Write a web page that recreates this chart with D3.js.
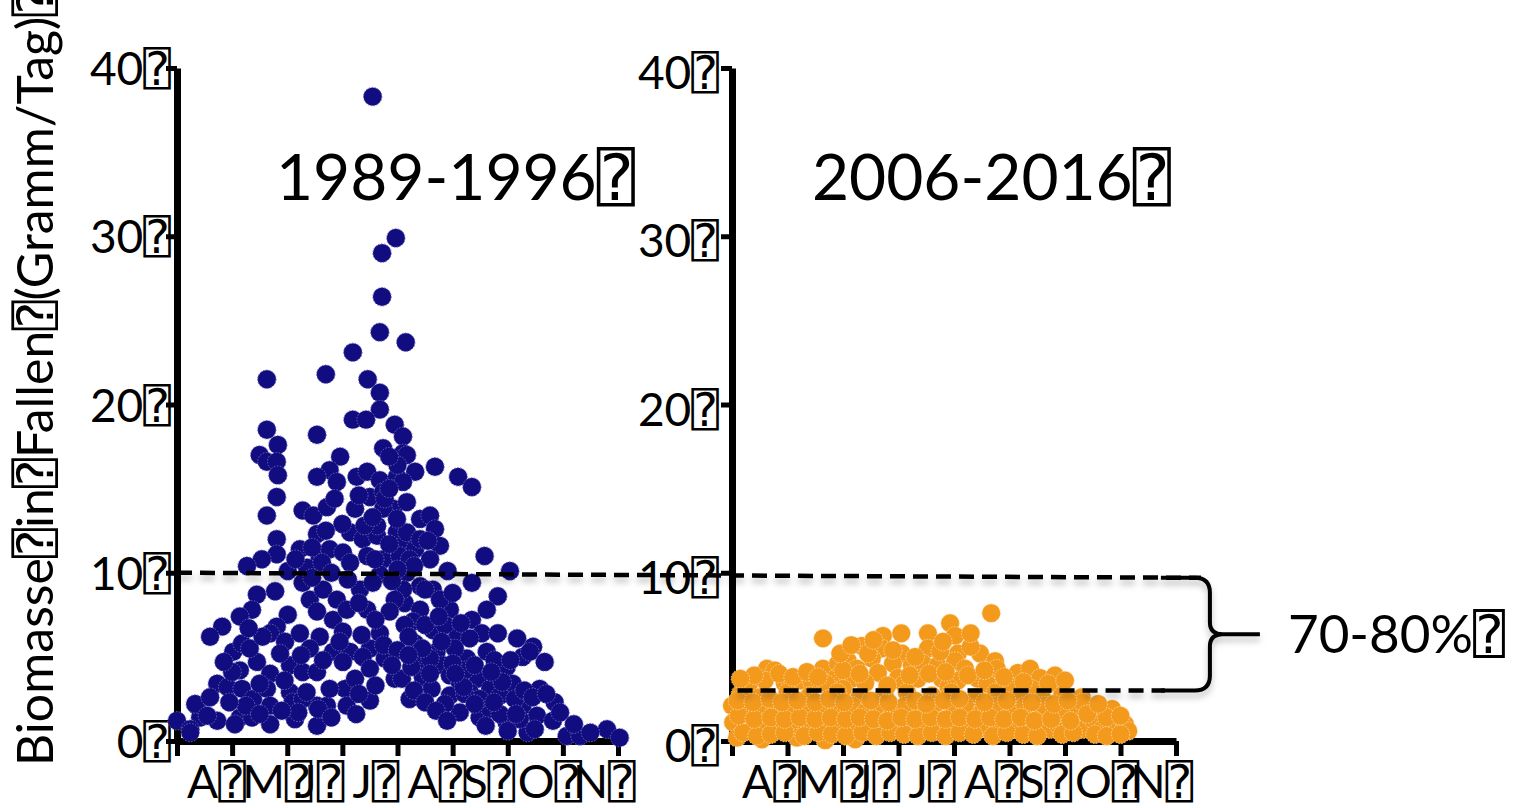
<!DOCTYPE html>
<html><head><meta charset="utf-8">
<script src="https://cdn.jsdelivr.net/npm/d3@7"></script>
<style>
html,body{margin:0;padding:0;background:#fff;}
svg{display:block;}
text{font-family: Lato, "DejaVu Sans Mono", "DejaVu Sans", sans-serif; fill:#000;}
</style></head><body>
<svg id="chart" width="1516" height="808"></svg>
<script>
// glyph that the source deck shows in place of unknown characters
const Q = "\u2370";

const months = ["A", "M", "J", "J", "A", "S", "O", "N"];
const yTicks = [0, 10, 20, 30, 40];
const periodLabels = ["1989-1996" + Q, "2006-2016" + Q];
const yTitle = "Biomasse" + Q + "in" + Q + "Fallen" + Q + "(Gramm/Tag)" + Q;
const declineLabel = "70-80%" + Q;

// reference levels: earlier mean (left end / right end of the dashed line) and recent level
const upperRef = [10, 9.7];
const lowerRef = 3;

// [months since 1 April, biomass g/day]
const early = [
[3.55,38.3],[3.97,29.9],[3.72,29.0],[3.72,26.4],[3.68,24.3],[4.15,23.7],[3.19,23.1],[1.63,21.5],[2.70,21.8],[3.46,21.5],[3.68,20.7],
[3.68,19.7],[3.19,19.1],[3.43,19.1],[3.95,18.8],[4.10,18.1],[1.63,18.5],[2.54,18.2],[1.83,17.6],[1.50,17.0],[1.63,16.6],[1.81,16.6],[1.83,15.8],[3.74,17.4],[4.10,17.1],[2.96,16.9],[2.77,16.1],[2.54,15.7],[2.90,15.4],[3.26,15.7],[3.45,16.0],[3.68,15.5],[3.99,15.7],
[1.81,14.5],[1.63,13.4],[2.28,13.7],[2.47,13.4],[2.72,13.9],[2.86,14.4],[3.23,13.8],[3.50,14.5],[3.74,14.8],[3.92,13.8],[4.17,14.2],
[1.81,12.0],[2.54,12.3],[3.14,12.4],[3.37,12.0],[3.63,12.2],[3.99,12.4],[4.10,11.6],
[2.23,11.4],[1.81,11.1],[1.54,10.8],[1.27,10.4],[2.59,10.9],[2.77,11.4],[3.01,11.2],[3.45,11.0],[3.74,10.8],[4.04,11.0],
[2.01,10.1],[2.36,10.3],[2.63,10.6],[3.14,10.6],
[1.45,8.7],[1.78,8.9],[1.36,7.8],[1.14,7.4],[0.82,6.8],[0.60,6.2],[2.28,9.4],[2.41,8.4],[2.65,9.0],[2.90,8.4],[2.01,7.5],[1.81,6.8],[1.69,6.4],[1.96,5.9],[2.23,6.4],[2.54,7.7],[2.59,6.2],[2.83,7.2],[3.01,6.5],[3.08,7.8],[3.45,7.8],[3.68,6.4],[2.41,5.5],[2.83,5.3],[3.14,5.3],[3.50,5.5],[1.02,5.3],[1.18,5.8],[1.45,4.7],[1.14,4.2],[1.69,4.0],[2.05,4.5],[2.28,4.1],[2.54,4.1],[3.01,4.7],[3.37,5.0],
[0.73,3.4],[0.92,3.2],[1.18,3.1],[1.38,2.5],[1.63,3.1],[1.69,2.1],[2.05,2.9],[2.10,2.3],[2.54,2.1],[2.72,2.1],[3.05,3.1],[3.08,2.1],[3.50,2.4],[3.95,3.7],[0.36,2.1],[0.42,1.4],[0.00,1.2],[0.24,0.7],[0.33,2.2],[0.24,0.5],[0.73,1.2],[1.14,1.4],[1.36,1.4],[1.69,1.0],[2.14,1.3],[2.54,0.9],[2.56,1.9],
[4.17,17.0],[4.32,16.0],[4.68,16.3],[4.10,15.4],[5.10,15.7],[5.35,15.1],[4.41,13.2],[4.59,13.4],[4.68,12.6],[4.17,12.4],[4.77,11.6],[4.32,11.4],[4.59,10.8],[5.58,11.0],[4.91,10.1],[6.04,10.1],[5.35,9.4],[4.17,10.0],[4.41,9.2],[4.64,9.0],[5.82,8.6],[5.62,7.8],[4.13,8.2],[4.41,7.8],[4.95,7.8],[5.35,7.2],[4.28,7.1],[4.64,6.6],[5.08,6.2],[5.53,6.4],[5.82,6.4],[6.17,6.1],[6.46,5.6],[6.27,5.0],[6.67,4.7],[4.41,4.8],[4.71,5.3],[4.82,4.5],[5.26,4.9],[5.62,5.3],[5.86,4.2],[5.98,4.4],[4.08,3.7],[4.46,3.8],[4.62,3.1],[4.95,3.9],[5.13,3.5],[5.46,3.7],[5.68,3.1],[6.09,3.4],[4.95,2.7],[5.31,2.9],[5.86,2.7],[5.13,1.7],[5.49,1.4],[5.68,1.9],[5.98,1.1],[6.27,2.1],[6.53,1.5],[6.85,2.3],[6.82,1.2],[6.36,0.5],[7.07,0.3],[7.31,0.3],[7.80,0.7],[8.03,0.2],[6.40,5.3],
[3.74,13.8],[3.99,13.2],[3.63,12.8],[3.68,9.9],[4.10,9.0],[3.95,8.4],[3.86,7.7],[4.13,6.9],[3.77,14.4],[3.32,9.0],[3.59,10.8],[4.22,10.8],[4.41,12.0],[4.50,9.0],[4.77,8.4],[4.86,6.9],[4.32,5.8],[4.59,4.9],[5.04,5.5],[5.31,6.1],[5.22,4.2],[5.49,2.5],[5.76,4.8],[6.13,2.5],[6.22,1.3],[6.58,3.1],[6.49,0.7],[5.86,1.6],[4.86,2.2],[5.22,2.8],[4.59,4.0],[4.22,2.5],[3.23,3.7],[2.77,3.1],[1.87,5.2],[2.28,2.5],[1.32,5.5],[3.50,4.3],[3.77,4.9],
[4.30,3.0],[4.50,2.3],[4.70,1.8],[4.90,1.2],[5.00,4.6],[5.20,3.2],[5.40,2.2],[5.60,0.9],[5.75,2.3],[5.90,3.5],[6.00,0.6],[6.15,1.6],[6.30,3.0],[6.45,2.6],[6.70,2.8],[6.95,1.7],[7.20,1.0],[7.50,0.5],
[4.25,4.4],[4.45,5.5],[4.80,5.9],[5.05,4.0],[5.40,4.5],[5.70,4.1],[6.05,4.8],[4.20,6.2],[4.50,6.9],[4.75,7.4],[5.15,7.0],[5.00,8.8],[4.30,10.4],[4.55,11.9],[4.00,10.2],[3.85,11.7],[3.90,9.5],[3.55,9.4],
[3.40,12.8],[3.55,13.3],[3.85,15.0],[4.00,16.4],[3.85,16.9],[3.30,14.6],[3.00,12.9],[2.70,12.5],[2.45,11.5],[3.10,9.6],[2.80,10.0],[3.30,8.2],[3.60,7.2],[3.75,5.7],[4.00,5.4],[3.90,4.5],[4.20,5.1],[3.35,6.3],[2.95,5.9],[2.65,4.8],[2.25,5.1],
[1.95,3.6],[1.50,3.4],[1.25,2.1],[0.95,2.3],[0.60,2.6],[0.55,1.5],[1.05,1.0],[2.35,2.9],[2.80,1.4],[3.25,1.6],[3.60,3.3],[3.30,2.8],[2.20,1.7],[1.90,1.8],[1.50,1.6],[1.00,4.1],[0.85,4.7],[1.55,6.2],[1.30,6.7],[2.15,10.8],[2.45,9.7]
];

const recent = [
[4.67,7.6],[3.93,7.0],[4.02,6.25],[1.64,6.1],[2.72,6.25],[3.05,6.4],[3.53,6.4],[2.34,5.65],[2.70,5.5],[3.53,5.5],[3.06,5.2],[4.07,5.2],[4.47,5.2],[2.52,4.9],
[0.63,4.3],[0.77,4.2],[1.64,4.3],[1.91,4.6],[2.09,4.75],[2.25,4.3],[2.90,4.6],[3.24,4.5],[3.44,4.6],[3.71,4.5],[4.02,4.75],[4.20,4.3],[4.74,4.75],[4.77,4.3],
[0.95,3.45],[1.23,3.6],[1.44,3.5],[0.59,3.6],[5.15,4.05],[5.37,4.3],[5.55,3.75],[5.82,3.9],[4.97,3.3],[2.63,4.05],[2.99,3.75],[1.86,3.7],[3.35,3.7],[3.78,3.7],[4.07,3.6],[4.43,3.7],[2.16,3.7],[2.40,3.45],
[0.30,3.3],[1.70,3.4],[2.00,3.1],[3.10,3.4],[3.90,3.2],[4.60,3.4],[5.40,3.1],
[0.15,2.8],[0.50,2.6],[1.00,2.9],[1.40,2.7],[1.90,2.9],[2.30,2.6],[2.75,2.8],[3.15,2.9],[3.60,2.7],[3.95,2.9],[4.40,2.6],[4.75,2.9],[5.20,2.7],[5.60,2.5],[5.95,2.8],[6.30,2.6],
[0.00,2.1],[0.02,1.1],[0.09,0.2],[0.23,1.8],[0.36,0.7],[0.54,2.1],[0.59,1.1],[0.54,0.1],[0.77,1.7],[0.83,0.7],[1.01,2.1],[1.10,1.1],[1.17,0.2],[1.32,1.7],[1.41,0.8],
[1.62,2.1],[1.64,1.1],[1.68,0.05],[1.89,1.6],[1.95,0.7],[2.16,2.1],[2.18,1.1],[2.22,0.1],[2.40,1.7],[2.45,0.7],[2.63,2.1],[2.70,1.1],[2.88,1.6],[2.94,0.7],
[3.12,2.1],[3.21,1.2],[3.42,1.7],[3.48,0.8],[3.66,2.2],[3.71,1.2],[3.96,0.6],[4.02,1.8],[4.20,2.1],[4.25,1.1],[4.50,1.7],[4.59,0.7],[4.74,2.1],[4.79,1.1],
[5.05,1.7],[5.10,0.7],[5.28,2.1],[5.37,1.1],[5.59,1.5],[5.73,0.7],[5.87,1.0],[6.00,1.6],[6.23,2.1],[6.32,0.7],[6.49,1.3],[6.67,0.7],[6.85,1.9],[6.90,0.8],
[7.08,1.0],[7.14,0.6],[5.64,2.1],[6.32,2.3],[6.54,0.4],
[0.20,0.5],[0.45,0.3],[0.70,0.4],[0.95,0.5],[1.30,0.3],[1.55,0.5],[1.80,0.4],[2.05,0.3],[2.35,0.5],[2.60,0.3],[2.85,0.5],[3.10,0.4],[3.35,0.3],[3.60,0.5],[3.85,0.3],[4.10,0.5],[4.35,0.4],[4.70,0.3],[4.95,0.5],[5.25,0.4],[5.50,0.3],[5.95,0.4],[6.15,0.5],[6.75,0.3],[7.00,0.4],
[0.12,1.5],[0.40,1.3],[0.70,1.4],[0.95,1.3],[1.22,1.4],[1.50,1.3],[1.78,1.4],[2.05,1.3],[2.30,1.4],[2.55,1.3],[2.80,1.2],[3.05,1.4],[3.30,1.3],[3.58,1.4],[3.85,1.3],[4.10,1.4],[4.38,1.3],[4.65,1.4],[4.90,1.3],[5.20,1.4],[5.45,1.2],[5.75,1.3],[6.10,1.2],[6.40,1.6],[6.75,1.4],[7.00,1.5],
[0.10,2.4],[0.38,2.3],[0.68,2.5],[0.90,2.3],[1.18,2.4],[1.50,2.3],[1.75,2.5],[2.02,2.3],[2.50,2.4],[2.82,2.3],[3.30,2.4],[3.50,2.2],[3.82,2.4],[4.10,2.5],[4.55,2.3],[4.95,2.4],[5.40,2.3],[5.80,2.2],[6.05,2.4],[6.60,2.2],
[0.40,3.9],[0.85,4.0],[1.10,3.8],[1.35,4.1],[1.55,3.8],[2.00,4.2],[2.30,4.0],[2.80,3.3],[3.20,3.9],[3.55,4.0],[3.85,4.1],[4.25,3.9],[4.55,4.2],[4.90,3.8],[5.25,3.5],[5.70,3.4],[6.00,3.6],[0.15,3.7],
[2.45,5.2],[2.90,5.4],[3.30,5.0],[3.75,5.3],[4.30,5.6],[1.95,5.2],[2.15,5.7],[3.80,5.9],[4.30,6.4],[2.55,6.0]
];

const svg = d3.select("#chart");
const defs = svg.append("defs");
const shadow = defs.append("filter").attr("id", "soft").attr("x", "-10%").attr("y", "-50%").attr("width", "120%").attr("height", "300%");
shadow.append("feDropShadow").attr("dx", 0).attr("dy", 5).attr("stdDeviation", 3)
  .attr("flood-color", "#000").attr("flood-opacity", 0.25);

const y = d3.scaleLinear().domain([0, 40]).range([741, 68]);
const xL = d3.scaleLinear().domain([0, 8]).range([177, 618]);
const xR = d3.scaleLinear().domain([0, 8]).range([732, 1176]);

function panel(x, data, fill, ring, title, titleX, labelPad, labelShift) {
  const g = svg.append("g");

  // y axis
  const ya = g.append("g").attr("transform", `translate(${x(0)},0)`)
    .call(d3.axisLeft(y).tickValues(yTicks).tickSize(11).tickSizeOuter(0).tickPadding(labelPad)
      .tickFormat(d => d + Q));
  // x axis with month boundaries
  const xa = g.append("g").attr("transform", `translate(0,${y(0)})`)
    .call(d3.axisBottom(x).tickValues(d3.range(0, 9)).tickSize(15).tickSizeOuter(0).tickFormat(""));
  [ya, xa].forEach(a => {
    a.select(".domain").attr("stroke", "#000").attr("stroke-width", 7);
    a.selectAll(".tick line").attr("stroke", "#000").attr("stroke-width", 5);
    a.selectAll("text").attr("font-size", 46).attr("fill", "#000");
  });
  ya.selectAll("text").attr("dy", "0.36em").attr("y", labelShift);

  // month initials, each starting just after its month boundary
  g.append("g").selectAll("text").data(months).join("text")
    .attr("x", (d, i) => x(i) + 10).attr("y", y(0) + 57)
    .attr("font-size", 46).text(d => d + Q);

  // dots
  g.append("g").selectAll("circle").data(data).join("circle")
    .attr("cx", d => x(d[0])).attr("cy", d => y(d[1])).attr("r", 9.2)
    .attr("fill", fill).attr("stroke", ring).attr("stroke-width", 1)
    .attr("stroke-dasharray", "1.5 1.5");

  svg.append("text").attr("x", titleX).attr("y", 200).attr("font-size", 64).text(title);
}

panel(xL, early, "#110c80", "#6b68b8", periodLabels[0], 276, -5, 0);
panel(xR, recent, "#f39a1d", "#fbd6a0", periodLabels[1], 812, 2, 4);

// reference lines and brace
const ann = svg.append("g").attr("filter", "url(#soft)")
  .attr("stroke", "#000").attr("fill", "none");
ann.append("line")
  .attr("x1", xL(0)).attr("y1", y(upperRef[0]))
  .attr("x2", xR(8.45)).attr("y2", y(upperRef[1]))
  .attr("stroke-width", 4.5).attr("stroke-dasharray", "15 8");
ann.append("line")
  .attr("x1", xR(0.1)).attr("y1", y(lowerRef))
  .attr("x2", xR(7.8)).attr("y2", y(lowerRef))
  .attr("stroke-width", 4.5).attr("stroke-dasharray", "15 8");

const bx = xR(7.8), bTop = y(upperRef[1]), bBot = y(lowerRef), bMid = (bTop + bBot) / 2;
const bp = d3.path();
bp.moveTo(bx - 4, bTop);
bp.lineTo(bx + 30, bTop);
bp.quadraticCurveTo(bx + 45, bTop, bx + 45, bTop + 15);
bp.lineTo(bx + 45, bMid - 12);
bp.quadraticCurveTo(bx + 45, bMid, bx + 58, bMid);
bp.lineTo(bx + 95, bMid);
bp.moveTo(bx + 58, bMid);
bp.quadraticCurveTo(bx + 45, bMid, bx + 45, bMid + 12);
bp.lineTo(bx + 45, bBot - 15);
bp.quadraticCurveTo(bx + 45, bBot, bx + 30, bBot);
bp.lineTo(bx - 4, bBot);
ann.append("path").attr("d", bp.toString()).attr("stroke-width", 4);

svg.append("text").attr("x", bx + 123).attr("y", bMid + 19).attr("font-size", 53).text(declineLabel);

// y axis title
svg.append("text").attr("transform", "translate(53,766) rotate(-90)")
  .attr("font-size", 50).text(yTitle);
</script>
</body></html>
